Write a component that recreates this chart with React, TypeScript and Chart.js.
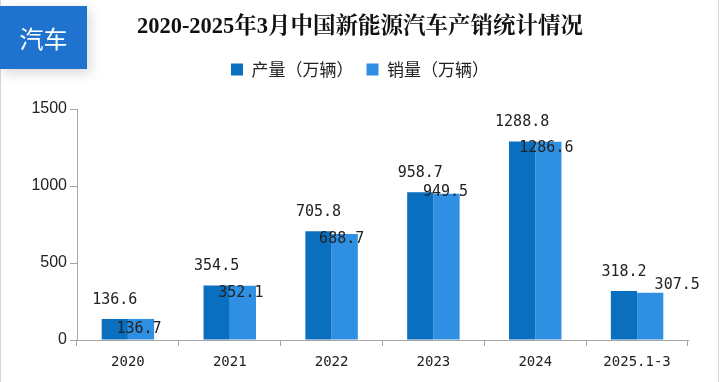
import React, { useEffect, useRef } from 'react';
import { Chart, registerables } from 'chart.js';

Chart.register(...registerables);

const categories = ['2020', '2021', '2022', '2023', '2024', '2025.1-3'];
const production = [136.6, 354.5, 705.8, 958.7, 1288.8, 318.2];
const sales = [136.7, 352.1, 688.7, 949.5, 1286.6, 307.5];
const seriesNames = ['产量（万辆）', '销量（万辆）'];
const yTicks = [0, 500, 1000, 1500];
const titleText = '2020-2025年3月中国新能源汽车产销统计情况';
const badgeText = '汽车';

// label nudges (style only): [dx, dy] for the sales-value labels
const salesLabelNudge = [[-2, 10], [-2, 7], [-3, 5], [-1, -2], [-2, 6], [27, -8]];

const COLORS = ['#0a6fbf', '#2f8fe3'];

const valueLabels = {
  id: 'valueLabels',
  afterDatasetsDraw(chart: any) {
    const ctx = chart.ctx;
    ctx.save();
    ctx.font = '15px "DejaVu Sans Mono"';
    ctx.fillStyle = '#222';
    ctx.textAlign = 'center';
    ctx.textBaseline = 'middle';
    chart.data.datasets.forEach((ds: any, di: number) => {
      const meta = chart.getDatasetMeta(di);
      meta.data.forEach((bar: any, i: number) => {
        const v = ds.data[i] as number;
        let x = bar.x;
        let y = bar.y;
        if (di === 0) {
          y -= 19;
        } else {
          x += salesLabelNudge[i][0];
          y += salesLabelNudge[i][1];
        }
        ctx.fillText(v.toFixed(1), x, y);
      });
    });
    ctx.restore();
  },
};

export default function App() {
  const ref = useRef<HTMLCanvasElement>(null);
  useEffect(() => {
    const chart = new Chart(ref.current as HTMLCanvasElement, {
      type: 'bar',
      data: {
        labels: categories,
        datasets: [
          {
            label: seriesNames[0],
            data: production,
            backgroundColor: COLORS[0],
            borderWidth: 0,
            categoryPercentage: 0.515,
            barPercentage: 1,
          },
          {
            label: seriesNames[1],
            data: sales,
            backgroundColor: COLORS[1],
            borderWidth: 0,
            categoryPercentage: 0.515,
            barPercentage: 1,
          },
        ],
      },
      options: {
        responsive: false,
        animation: false,
        devicePixelRatio: 1,
        layout: { padding: { left: 32, right: 32, top: 0, bottom: 0 } },
        plugins: {
          tooltip: { enabled: false },
          title: {
            display: true,
            text: titleText,
            color: '#111',
            font: {
              family: "'Liberation Serif', 'Noto Serif CJK SC', 'Noto Sans CJK SC', serif",
              size: 22.5,
              weight: 'bold',
            },
            padding: { top: 14, bottom: 7 },
          },
          subtitle: {
            display: true,
            text: '',
            weight: 500,
            font: { size: 10 },
            padding: { top: 9, bottom: 0 },
          } as any,
          legend: {
            display: true,
            position: 'top',
            labels: {
              boxWidth: 12,
              boxHeight: 12,
              padding: 13,
              color: '#222',
              font: { family: "'Noto Sans CJK SC'", size: 17 },
            },
          },
        },
        scales: {
          x: {
            grid: {
              display: true,
              drawOnChartArea: false,
              drawTicks: true,
              tickLength: 6,
              color: '#a6a6a6',
              offset: true,
            },
            border: { display: true, color: '#a6a6a6' },
            ticks: {
              color: '#222',
              padding: 8,
              font: { family: "'DejaVu Sans Mono'", size: 14 },
            },
            afterFit: (s: any) => {
              s.height = 42;
            },
          },
          y: {
            min: 0,
            max: 1500,
            grid: {
              display: true,
              drawOnChartArea: false,
              drawTicks: true,
              tickLength: 7,
              color: '#a6a6a6',
            },
            border: { display: true, color: '#a6a6a6' },
            ticks: {
              color: '#222',
              padding: 3,
              font: { family: "'Liberation Sans'", size: 16 },
              callback: (v: any) => String(v),
            },
            afterBuildTicks: (s: any) => {
              s.ticks = yTicks.map((v) => ({ value: v }));
            },
            afterFit: (s: any) => {
              s.width = 45;
            },
          },
        },
      },
      plugins: [valueLabels],
    } as any);
    return () => chart.destroy();
  }, []);

  return (
    <div
      style={{
        position: 'fixed',
        left: 0,
        top: 0,
        width: 720,
        height: 382,
        background: '#fff',
        overflow: 'hidden',
      }}
    >
      <div
        style={{
          position: 'absolute',
          left: 0,
          top: 0,
          width: 719,
          height: 382,
          boxSizing: 'border-box',
          borderLeft: '1px solid #d6d6d6',
          borderRight: '1px solid #d6d6d6',
        }}
      />
      <canvas
        ref={ref}
        width={720}
        height={382}
        style={{ position: 'absolute', left: 0, top: 0, width: 720, height: 382 }}
      />
      <div
        style={{
          position: 'absolute',
          left: 0,
          top: 6,
          width: 87,
          height: 63,
          background: '#1f73cf',
          color: '#fff',
          fontFamily: "'Noto Sans CJK SC', sans-serif",
          fontSize: 24,
          display: 'flex',
          alignItems: 'center',
          justifyContent: 'center',
          boxShadow: '3px 4px 12px rgba(0,0,0,0.16)',
        }}
      >
        {badgeText}
      </div>
    </div>
  );
}
